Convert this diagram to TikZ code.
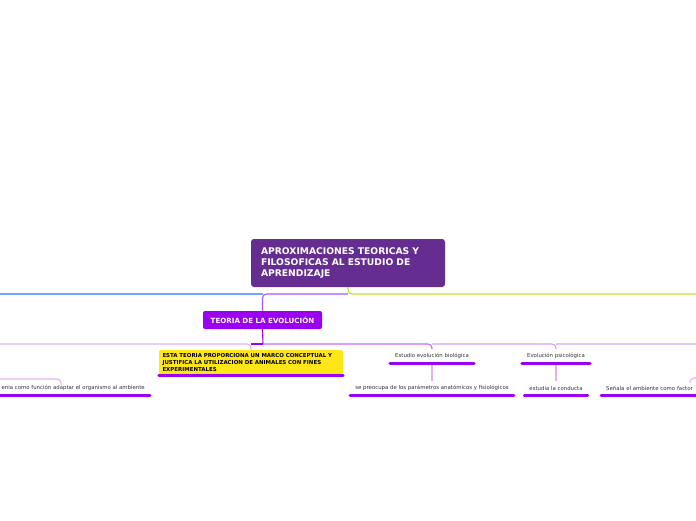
\documentclass[tikz,border=0pt]{standalone}
\usepackage{fontspec}
\setmainfont{DejaVu Sans}
\usetikzlibrary{positioning,calc}
\definecolor{rootviolet}{HTML}{662D91}
\definecolor{boxviolet}{HTML}{9B00F0}
\definecolor{hubviolet}{HTML}{AA55F5}
\definecolor{stemviolet}{HTML}{A000F0}
\definecolor{branchblue}{HTML}{74A4F4}
\definecolor{branchgreen}{HTML}{B8E42A}
\definecolor{lineA}{HTML}{C46CF5}
\definecolor{lineB}{HTML}{D49AF7}
\definecolor{lineC}{HTML}{E6C2FA}
\definecolor{leafline}{HTML}{E0B0F8}
\definecolor{notebox}{HTML}{FFE614}

\begin{document}
\begin{tikzpicture}[x=1pt,y=-1pt,
  rootbox/.style={fill=rootviolet,rounded corners=3pt,text=white,align=left,
    font=\bfseries\fontsize{9.2}{11}\selectfont,text width=174pt,inner xsep=10pt,
    minimum width=194pt,minimum height=48pt},
  topicbox/.style={fill=boxviolet,rounded corners=2pt,text=white,
    font=\bfseries\fontsize{7.1}{8}\selectfont,minimum width=119pt,minimum height=18pt},
  notebox/.style={fill=notebox,rounded corners=2pt,align=left,text width=177pt,
    inner xsep=3.5pt,font=\bfseries\fontsize{5.45}{6.6}\selectfont,minimum height=25pt},
  leaf/.style={text=black!80,font=\fontsize{5.4}{6}\selectfont,inner xsep=5pt,
    minimum height=14pt},
  bar/.style={draw=boxviolet,line width=3pt,line cap=round},
  link/.style={line width=1.1pt,rounded corners=4pt}]
  \useasboundingbox (0,0) rectangle (696,520);

  \node[rootbox] (root) at (348,263) {APROXIMACIONES TEORICAS Y\\ FILOSOFICAS AL ESTUDIO DE\\ APRENDIZAJE};
  \node[topicbox] (teoria) at (262.5,320) {TEORIA DE LA EVOLUCIÓN};
  \node[notebox] (marco) at (251,362.5) {ESTA TEORIA PROPORCIONA UN MARCO CONCEPTUAL Y\\ JUSTIFICA LA UTILIZACION DE ANIMALES CON FINES\\ EXPERIMENTALES};
  \node[leaf] (biol) at (432,356) {Estudio evolución biológica};
  \node[leaf] (psico) at (556,356) {Evolución psicológica};
  \node[leaf] (param) at (432,388) {se preocupa de los parámetros anatómicos y fisiológicos};
  \node[leaf] (conducta) at (556,388) {estudia la conducta};
  \node[leaf,anchor=east] (funcion) at (150,388) {enia como función adaptar el organismo al ambiente};
  \node[leaf,anchor=west,align=left,text width=95pt] (factor) at (601,388) {Señala el ambiente como factor};

  \coordinate (hub) at (348,294);
  \coordinate (westend) at (0,294);
  \coordinate (eastend) at (696,294);
  \coordinate (fork) at (263,344);
  \coordinate (forkwest) at (0,344);
  \coordinate (forkeast) at (696,344);
  \coordinate (leafwest) at (0,379);
  \coordinate (leafeast) at (696,378);

  \draw[link,branchblue] (teoria.north |- hub) -- (westend);
  \draw[link,hubviolet] (hub) -- (teoria.north |- hub) -- (teoria.north);
  \draw[link,branchgreen] (root.south) -- (hub) -- (eastend);

  \draw[link,stemviolet] (teoria.south) -- (fork);
  \draw[link,leafline] (forkwest) -- (marco.north |- fork) -- (marco.north);
  \draw[link,stemviolet] (fork) -- (marco.north |- fork);
  \draw[link,lineA] (fork) -- (biol.north |- fork) -- (biol.north);
  \draw[link,lineB] (biol.north |- fork) -- (psico.north |- fork) -- (psico.north);
  \draw[link,lineC] (psico.north |- fork) -- (forkeast);

  \draw[link,leafline] (biol.south) -- (param.north);
  \draw[link,leafline] (psico.south) -- (conducta.north);
  \draw[link,leafline] (leafwest) -| ($(funcion.north east)+(-89,2)$);
  \draw[link,leafline] ($(factor.north west)+(89,2)$) |- (leafeast);

  \draw[bar] (marco.south west) -- (marco.south east);
  \foreach \n in {biol,psico,param,conducta,funcion,factor}
    \draw[bar] (\n.south west) -- (\n.south east);
\end{tikzpicture}
\end{document}
